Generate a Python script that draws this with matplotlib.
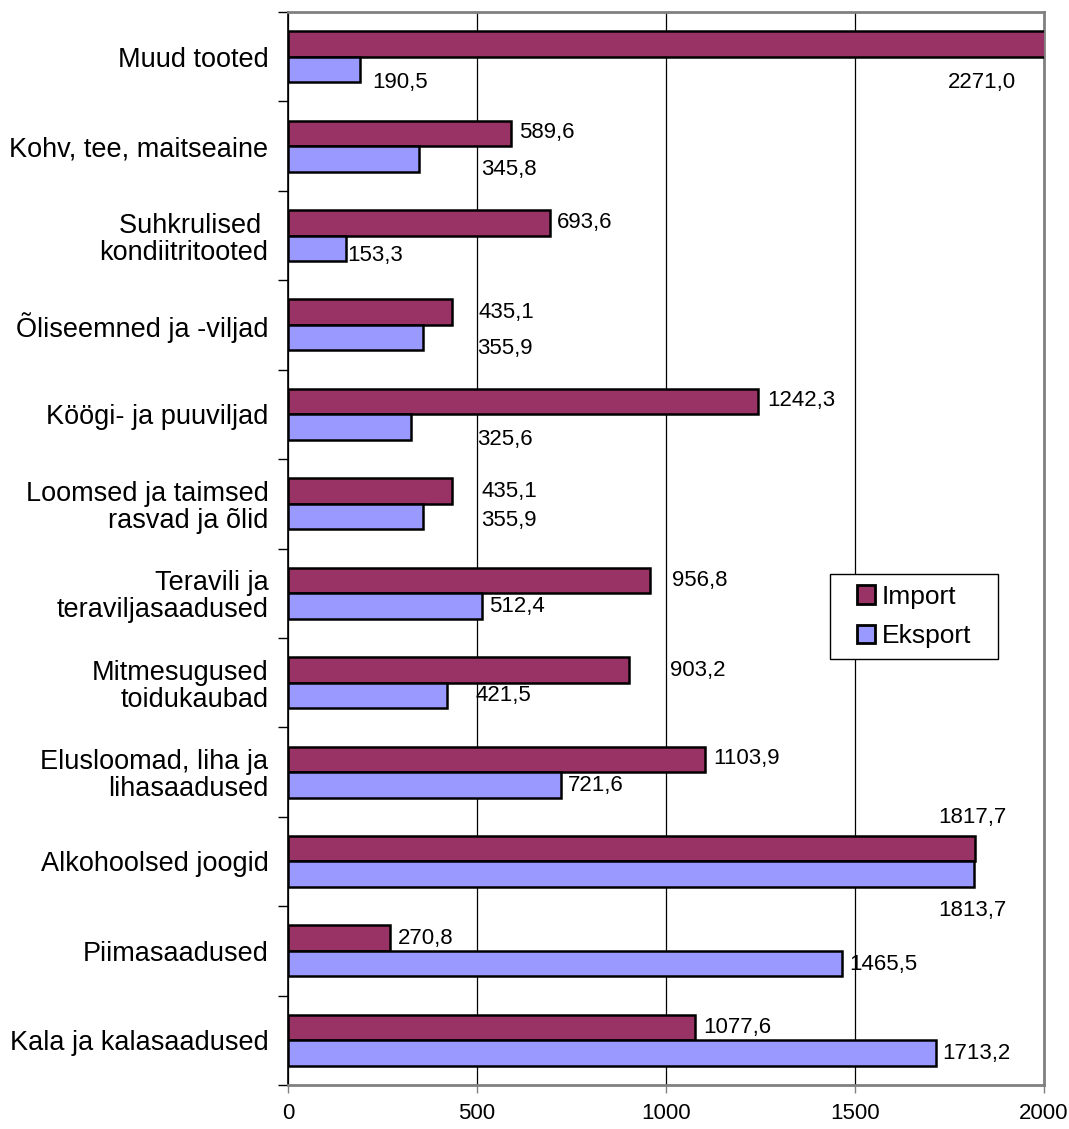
import numpy as np
import matplotlib.pyplot as plt
from matplotlib.patches import Patch, Rectangle

plt.rcParams['font.family'] = ['Liberation Sans', 'DejaVu Sans']

# kategooriad ülevalt alla
kategooriad = ['Muud tooted', 'Kohv, tee, maitseaine', 'Suhkrulised \nkondiitritooted',
               'Õliseemned ja -viljad', 'Köögi- ja puuviljad', 'Loomsed ja taimsed\nrasvad ja õlid',
               'Teravili ja\nteraviljasaadused', 'Mitmesugused\ntoidukaubad',
               'Elusloomad, liha ja\nlihasaadused', 'Alkohoolsed joogid', 'Piimasaadused',
               'Kala ja kalasaadused']
importt = [2271.0, 589.6, 693.6, 435.1, 1242.3, 435.1, 956.8, 903.2, 1103.9, 1817.7, 270.8, 1077.6]
eksport = [190.5, 345.8, 153.3, 355.9, 325.6, 355.9, 512.4, 421.5, 721.6, 1813.7, 1465.5, 1713.2]

# siltide asukohad (x andmeühikutes, y nihe kategooria keskelt)
imp_lab_x = [1746, 611, 712, 505, 1267, 511, 1016, 1011, 1124, 1720, 291, 1098]
imp_lab_dy = [0.294, -0.147, -0.151, -0.144, -0.160, -0.142, -0.147, -0.140, -0.155, -0.496, -0.142, -0.147]
eks_lab_x = [222, 511, 156, 500, 500, 511, 532, 497, 741, 1720, 1484, 1730]
eks_lab_dy = [0.294, 0.267, 0.218, 0.258, 0.276, 0.182, 0.144, 0.140, 0.147, 0.545, 0.149, 0.144]

c_imp = '#993366'
c_eks = '#9999FF'


def fmt(v):
    return ('%.1f' % v).replace('.', ',')


fig = plt.figure(figsize=(10.69, 11.29), dpi=100)
ax = fig.add_axes([288/1069, 44/1129, 756/1069, 1073/1129])

y = np.arange(len(kategooriad))
h = 0.285
ax.barh(y - h/2, importt, height=h, color=c_imp, edgecolor='black', linewidth=1.8, label='Import', zorder=3)
ax.barh(y + h/2, eksport, height=h, color=c_eks, edgecolor='black', linewidth=1.8, label='Eksport', zorder=3)

for i in range(len(kategooriad)):
    ax.text(imp_lab_x[i], i + imp_lab_dy[i], fmt(importt[i]), ha='left', va='center',
            fontsize=16, clip_on=False, zorder=5)
    ax.text(eks_lab_x[i], i + eks_lab_dy[i], fmt(eksport[i]), ha='left', va='center',
            fontsize=16, clip_on=False, zorder=5)

ax.set_xlim(0, 2000)
ax.set_ylim(len(kategooriad) - 0.5, -0.5)
ax.set_xticks([0, 500, 1000, 1500, 2000])
ax.tick_params(axis='x', labelsize=16, length=6, width=1, color='#808080', pad=7)
ax.set_yticks(y)
ax.set_yticklabels(kategooriad, fontsize=19.5, linespacing=1.05)
ax.tick_params(axis='y', which='major', length=0, pad=14)
ax.set_yticks(np.arange(len(kategooriad) + 1) - 0.5, minor=True)
ax.tick_params(axis='y', which='minor', length=7, width=1, color='black')

ax.grid(axis='x', color='black', linewidth=0.9, zorder=0)
ax.set_axisbelow(True)
ax.spines['left'].set_color('black')
ax.spines['left'].set_linewidth(1.2)
for s in ['top', 'right', 'bottom']:
    ax.spines[s].set_color('#808080')
    ax.spines[s].set_linewidth(2)

# legendi raam eraldi, et sisu jääks keskele
fig.patches.append(Rectangle((830/1069, 1 - 659/1129), 168/1069, 85/1129,
                             transform=fig.transFigure, facecolor='white',
                             edgecolor='black', linewidth=1, zorder=8))
handles = [Patch(facecolor=c_imp, edgecolor='black', linewidth=2),
           Patch(facecolor=c_eks, edgecolor='black', linewidth=2)]
leg = fig.legend(handles, ['Import', 'Eksport'], loc='center',
                 bbox_to_anchor=((830 + 998) / 2 / 1069, 1 - (574 + 659) / 2 / 1129),
                 bbox_transform=fig.transFigure, frameon=False,
                 fontsize=19, handlelength=0.7, handleheight=0.7, handletextpad=0.25,
                 borderpad=0, labelspacing=0.6, borderaxespad=0)
leg.set_zorder(10)

fig.savefig('out.png', dpi=100)
